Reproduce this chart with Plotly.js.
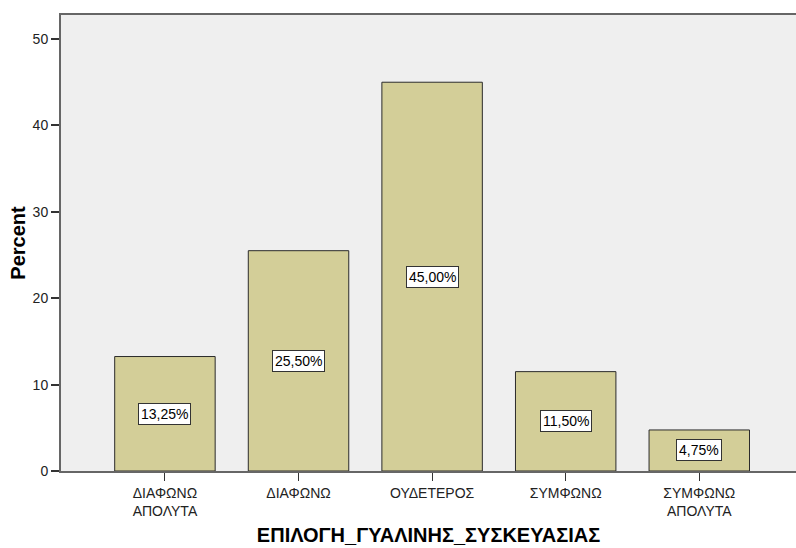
<!DOCTYPE html>
<html>
<head>
<meta charset="utf-8">
<script src="https://cdn.plot.ly/plotly-3.0.1.min.js"></script>
<style>html,body{margin:0;padding:0;background:#fff;}</style>
</head>
<body>
<div id="chart" style="width:796px;height:548px;"></div>
<script>
const categories = ["ΔΙΑΦΩΝΩ<br>ΑΠΟΛΥΤΑ", "ΔΙΑΦΩΝΩ", "ΟΥΔΕΤΕΡΟΣ", "ΣΥΜΦΩΝΩ", "ΣΥΜΦΩΝΩ<br>ΑΠΟΛΥΤΑ"];
const percents = [13.25, 25.50, 45.00, 11.50, 4.75];
const percentLabels = ["13,25%", "25,50%", "45,00%", "11,50%", "4,75%"];
const yTicks = [0, 10, 20, 30, 40, 50];

const font = "Liberation Sans, Arial, sans-serif";

const trace = {
  type: "bar",
  x: categories.map((c, i) => i),
  y: percents,
  width: 0.752,
  marker: {color: "#d3ce98", line: {color: "#2b2b2b", width: 1}},
  hoverinfo: "skip"
};

const annotations = percents.map((v, i) => ({
  x: i, y: v / 2, xref: "x", yref: "y",
  text: percentLabels[i], showarrow: false,
  bgcolor: "#ffffff", bordercolor: "#333333", borderwidth: 1, borderpad: 2,
  font: {family: font, size: 14, color: "#000"}
}));

const layout = {
  width: 796, height: 548,
  margin: {l: 61, r: 0, t: 15, b: 77},
  paper_bgcolor: "#ffffff",
  plot_bgcolor: "#efefef",
  showlegend: false,
  bargap: 0,
  xaxis: {
    range: [-0.778, 4.724],
    tickmode: "array",
    tickvals: categories.map((c, i) => i),
    ticktext: categories,
    ticks: "outside", ticklen: 8, tickwidth: 1, tickcolor: "#333",
    showline: true, linecolor: "#666", linewidth: 2, mirror: true,
    showgrid: false, zeroline: false,
    tickfont: {family: font, size: 14, color: "#222"},
    title: {text: "ΕΠΙΛΟΓΗ_ΓΥΑΛΙΝΗΣ_ΣΥΣΚΕΥΑΣΙΑΣ", font: {family: font, size: 20, color: "#000", weight: "bold"}, standoff: 10}
  },
  yaxis: {
    range: [0, 52.78],
    tickmode: "array",
    tickvals: yTicks,
    ticks: "outside", ticklen: 8, tickwidth: 2, tickcolor: "#333",
    showline: true, linecolor: "#666", linewidth: 2,
    showgrid: false, zeroline: false,
    tickfont: {family: font, size: 14, color: "#222"},
    title: {text: "Percent", font: {family: font, size: 20, color: "#000", weight: "bold"}, standoff: 2}
  },
  annotations: annotations
};

Plotly.newPlot("chart", [trace], layout, {displayModeBar: false, staticPlot: true});
</script>
</body>
</html>
